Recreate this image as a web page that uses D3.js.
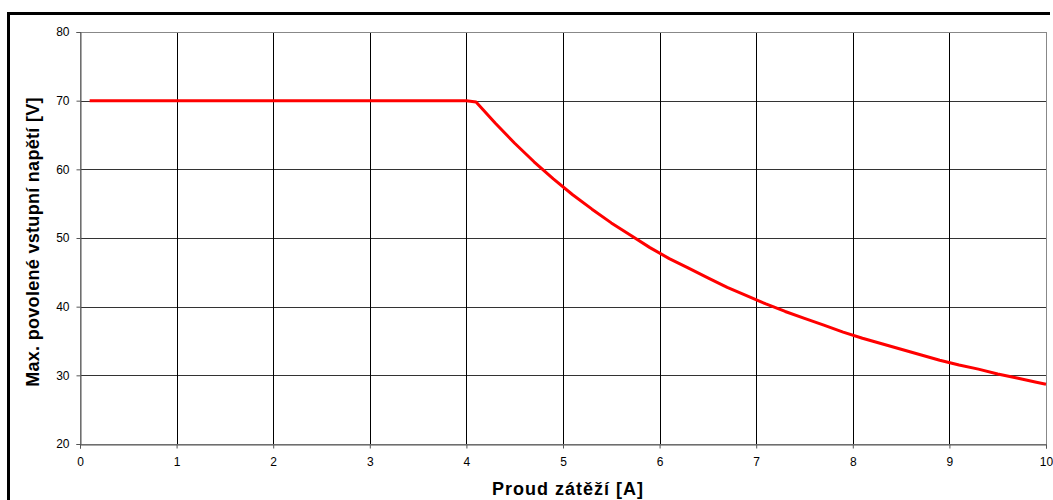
<!DOCTYPE html>
<html><head><meta charset="utf-8">
<script src="https://cdn.jsdelivr.net/npm/d3@7"></script>
<style>body{margin:0;background:#fff}svg{display:block}</style>
</head><body><svg id="c" width="1053" height="500"></svg>
<script>
const currents = [0.1,0.5,1.0,1.5,2.0,2.5,3.0,3.5,4.0,4.1,4.3,4.5,4.7,4.9,5.1,5.3,5.5,5.7,5.9,6.1,6.3,6.5,6.7,6.9,7.1,7.3,7.5,7.7,7.9,8.1,8.3,8.5,8.7,8.9,9.1,9.3,9.5,9.7,9.9,10.0];
const voltages = [70,70,70,70,70,70,70,70,70,69.8,66.7,63.8,61.1,58.6,56.3,54.2,52.2,50.4,48.6,47.0,45.6,44.2,42.8,41.6,40.4,39.3,38.3,37.3,36.3,35.4,34.6,33.8,33.0,32.2,31.5,30.9,30.2,29.6,29.0,28.7];
const xTicks = [0,1,2,3,4,5,6,7,8,9,10];
const yTicks = [20,30,40,50,60,70,80];
const xTitle = "Proud zátěží [A]";
const yTitle = "Max. povolené vstupní napětí [V]";

const svg = d3.select("#c");
const L=80, R=1046, T=32, B=444;
const x = d3.scaleLinear().domain([0,10]).range([L,R]);
const y = d3.scaleLinear().domain([20,80]).range([B,T]);

// outer frame
svg.append("path").attr("d","M8.5,500 V13.5 H1050").attr("fill","none").attr("stroke","#000").attr("stroke-width",3);

// gridlines
svg.append("g").selectAll("line").data(yTicks.filter(d=>d>20&&d<80)).join("line")
  .attr("x1",L).attr("x2",R).attr("y1",d=>Math.round(y(d))+0.5).attr("y2",d=>Math.round(y(d))+0.5)
  .attr("stroke","#333").attr("stroke-width",1);
svg.append("g").selectAll("line").data(xTicks.filter(d=>d>0&&d<10)).join("line")
  .attr("y1",T).attr("y2",B).attr("x1",d=>Math.round(x(d))+0.5).attr("x2",d=>Math.round(x(d))+0.5)
  .attr("stroke","#000").attr("stroke-width",1);
// plot border
svg.append("rect").attr("x",L+0.5).attr("y",T+0.5).attr("width",R-L).attr("height",B-T)
  .attr("fill","none").attr("stroke","#888").attr("stroke-width",1);

// axes
const xAxis = d3.axisBottom(x).tickValues(xTicks).tickSize(4).tickPadding(9);
const yAxis = d3.axisLeft(y).tickValues(yTicks).tickSize(4).tickPadding(7);
const gx = svg.append("g").attr("transform",`translate(0,${B+0.5})`).call(xAxis);
const gy = svg.append("g").attr("transform",`translate(${L+0.5},0)`).call(yAxis);
[gx,gy].forEach(g=>{
  g.select(".domain").attr("stroke","#555");
  g.selectAll(".tick line").attr("stroke","#555");
  g.selectAll("text").attr("font-family","Liberation Sans, Arial, sans-serif").attr("font-size",12).attr("fill","#000");
});

// line
const data = currents.map((c,i)=>[c,voltages[i]]);
svg.append("path").datum(data)
  .attr("d", d3.line().x(d=>x(d[0])).y(d=>y(d[1])))
  .attr("fill","none").attr("stroke","#ff0000").attr("stroke-width",3).attr("stroke-linejoin","round");

// titles
svg.append("text").attr("x",568).attr("y",495).attr("text-anchor","middle").attr("letter-spacing","1px")
  .attr("font-family","Liberation Sans, Arial, sans-serif").attr("font-weight","bold").attr("font-size",18).text(xTitle);
svg.append("text").attr("transform",`translate(39,242) rotate(-90)`).attr("text-anchor","middle").attr("letter-spacing","0.3px")
  .attr("font-family","Liberation Sans, Arial, sans-serif").attr("font-weight","bold").attr("font-size",18).text(yTitle);
</script></body></html>
